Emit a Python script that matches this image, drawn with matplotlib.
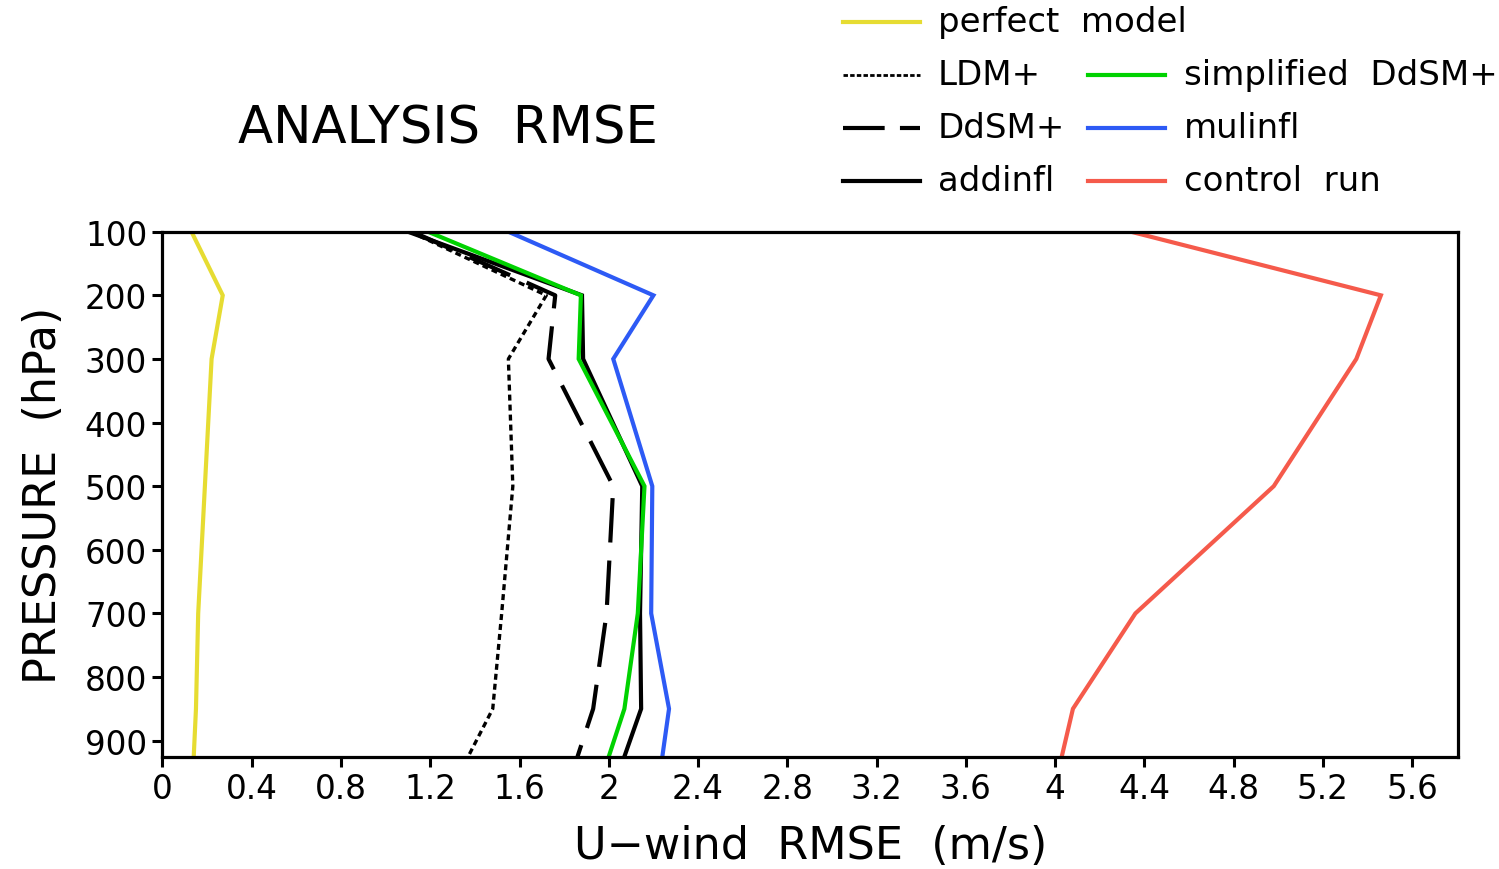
import matplotlib
matplotlib.use("Agg")
import matplotlib.pyplot as plt
from matplotlib.lines import Line2D

plt.rcParams['font.family'] = ['DejaVu Sans']
plt.rcParams['lines.scale_dashes'] = False

# ---- data ----
levels = [100, 200, 300, 500, 700, 850, 925]
perfect_model = [0.13, 0.27, 0.22, 0.19, 0.16, 0.15, 0.14]
ldm_plus = [1.11, 1.72, 1.55, 1.57, 1.52, 1.48, 1.37]
ddsm_plus = [1.12, 1.76, 1.73, 2.02, 1.99, 1.93, 1.86]
addinfl = [1.10, 1.88, 1.885, 2.15, 2.14, 2.145, 2.07]
simplified_ddsm = [1.19, 1.875, 1.865, 2.16, 2.13, 2.07, 2.00]
mulinfl = [1.55, 2.20, 2.02, 2.195, 2.19, 2.27, 2.24]
control_run = [4.34, 5.46, 5.35, 4.98, 4.36, 4.08, 4.03]

xticks = [0, 0.4, 0.8, 1.2, 1.6, 2, 2.4, 2.8, 3.2, 3.6, 4, 4.4, 4.8, 5.2, 5.6]
xticklabels = ["0", "0.4", "0.8", "1.2", "1.6", "2", "2.4", "2.8", "3.2", "3.6",
               "4", "4.4", "4.8", "5.2", "5.6"]
yticks = [100, 200, 300, 400, 500, 600, 700, 800, 900]

# ---- styles ----
C_YEL = "#E6DC32"
C_GRN = "#00D200"
C_BLU = "#2D5AF5"
C_RED = "#F55A4B"
LW = 3.0
dot_dash = (0, (4.3, 2.9))
long_dash = (0, (32, 13))

fig = plt.figure(figsize=(14.99, 8.70), dpi=100)
ax = fig.add_axes([0.1084, 0.1293, 0.9727 - 0.1084, 0.7325 - 0.1293])

series = [
    (perfect_model, dict(color=C_YEL, lw=LW, ls='-')),
    (control_run, dict(color=C_RED, lw=LW, ls='-')),
    (mulinfl, dict(color=C_BLU, lw=LW, ls='-')),
    (addinfl, dict(color='black', lw=LW, ls='-')),
    (simplified_ddsm, dict(color=C_GRN, lw=LW, ls='-')),
    (ddsm_plus, dict(color='black', lw=LW, ls=long_dash)),
    (ldm_plus, dict(color='black', lw=2.4, ls=dot_dash)),
]
for vals, st in series:
    ax.plot(vals, levels, solid_joinstyle='miter', **st)

ax.set_xlim(0, 5.806)
ax.set_ylim(925, 100)
ax.set_xticks(xticks)
ax.set_xticklabels(xticklabels)
ax.set_yticks(yticks)
for s in ax.spines.values():
    s.set_linewidth(2.3)
ax.tick_params(direction='out', length=7, width=2.2, labelsize=23.5, pad=4)
ax.tick_params(axis='x', pad=4)

ax.set_xlabel("U−wind  RMSE  (m/s)", fontsize=32, labelpad=14)
ax.set_ylabel("PRESSURE  (hPa)", fontsize=32, labelpad=14)

fig.text(0.2985, 0.851, "ANALYSIS  RMSE", fontsize=37, ha='center', va='center')

# ---- legend (manual) ----
leg_rows = [
    (0.974, 0, "perfect model", dict(color=C_YEL, lw=LW, ls='-')),
    (0.913, 0, "LDM+", dict(color='black', lw=2.0, ls=(0, (3.2, 1.6)))),
    (0.852, 0, "DdSM+", dict(color='black', lw=LW, ls=(0, (30, 11)))),
    (0.791, 0, "addinfl", dict(color='black', lw=LW, ls='-')),
    (0.913, 1, "simplified DdSM+", dict(color=C_GRN, lw=LW, ls='-')),
    (0.852, 1, "mulinfl", dict(color=C_BLU, lw=LW, ls='-')),
    (0.791, 1, "control run", dict(color=C_RED, lw=LW, ls='-')),
]
col_x = [(843 / 1499, 920 / 1499, 938 / 1499), (1088 / 1499, 1165 / 1499, 1184 / 1499)]
for y, col, label, st in leg_rows:
    x0, x1, xt = col_x[col]
    fig.add_artist(Line2D([x0, x1], [y, y], transform=fig.transFigure, **st))
    fig.text(xt, y, label.replace(" ", "  "), fontsize=24.5, ha='left', va='center')

fig.savefig("out.png", dpi=100, facecolor='white')
